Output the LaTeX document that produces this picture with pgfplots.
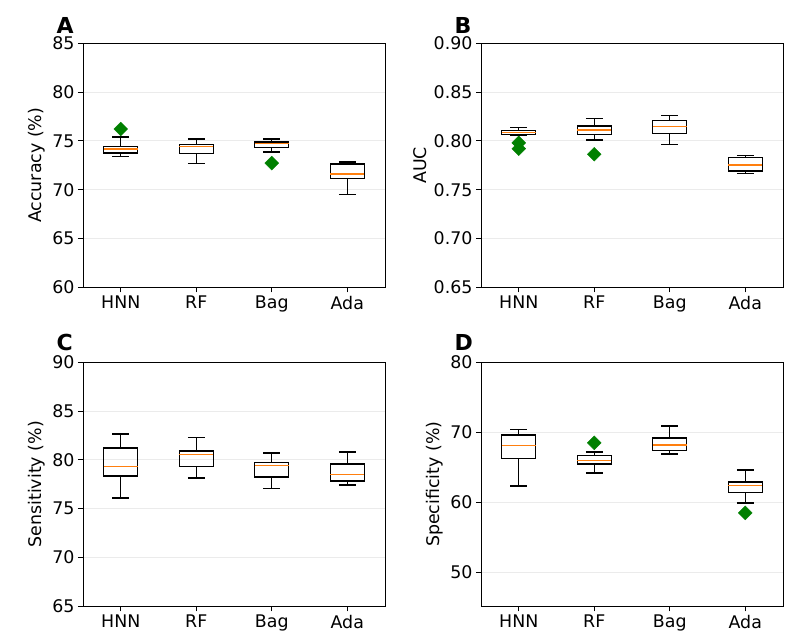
\documentclass[border=0pt]{standalone}
\usepackage{pgfplots}
\pgfplotsset{compat=1.18}
\usepgfplotslibrary{statistics}
\usepackage{fontspec}
\setmainfont{DejaVu Sans}

\definecolor{mplorange}{HTML}{FF7F0E}
\definecolor{mplgreen}{HTML}{008000}
\definecolor{gridgray}{HTML}{EBEBEB}

% one box: position, lower whisker, lower quartile, median, upper quartile, upper whisker
\newcommand{\bx}[6]{%
  \addplot[black, line width=1.4pt, boxplot prepared={draw position=#1,
      draw direction=y,
      lower whisker=#2, lower quartile=#3, median=#4,
      upper quartile=#5, upper whisker=#6}] coordinates {};}

\tikzset{letter/.style={anchor=base west, font=\bfseries\fontsize{22}{24}\selectfont}}

\pgfplotsset{
  panel/.style={
    scale only axis, width=302pt, height=244pt,
    anchor=north west, clip=false,
    xmin=0.5, xmax=4.5,
    xtick={1,2,3,4}, xticklabels={HNN,RF,Bag,Ada},
    tick pos=left, tick align=outside,
    major tick length=5pt,
    tick style={black, line width=0.9pt},
    axis line style={black, line width=0.9pt},
    ymajorgrids, grid style={gridgray, line width=0.9pt},
    tick label style={font=\fontsize{17.4}{20}\selectfont},
    label style={font=\fontsize{17.4}{20}\selectfont},
    /pgf/number format/assume math mode=true,
    boxplot/draw direction=y,
    boxplot/box extend=0.45,
    boxplot/whisker extend=0.225,
    boxplot/every median/.style={draw=mplorange, line width=1.3pt},
  },
  outl/.style={only marks, mark=square*, mark size=4.9pt,
    mark options={rotate=45, fill=mplgreen, draw=mplgreen}},
}

\begin{document}
\begin{tikzpicture}
\path[use as bounding box] (0,0) rectangle (795pt,-643pt);

% A
\begin{axis}[panel, at={(83pt,-43.3pt)}, ymin=60, ymax=85, ytick={60,65,...,85},
  ylabel={Accuracy (\%)}]
\bx{1}{73.4}{73.76}{74.17}{74.45}{75.4}
\bx{2}{72.66}{73.7}{74.4}{74.65}{75.2}
\bx{3}{73.87}{74.35}{74.72}{74.9}{75.2}
\bx{4}{69.53}{71.17}{71.6}{72.63}{72.84}
\addplot[outl] coordinates {(1,76.22) (3,72.73)};
\node[letter] at (rel axis cs:-0.099,1.041) {A};
\end{axis}

% B
\begin{axis}[panel, at={(481pt,-43.3pt)}, ymin=0.65, ymax=0.90,
  ytick={0.65,0.70,...,0.90},
  yticklabel style={/pgf/number format/.cd, fixed, fixed zerofill, precision=2},
  ylabel={AUC}]
\bx{1}{0.8057}{0.8064}{0.8084}{0.8109}{0.8139}
\bx{2}{0.8009}{0.8064}{0.8112}{0.8153}{0.8231}
\bx{3}{0.7961}{0.8074}{0.8146}{0.8207}{0.8259}
\bx{4}{0.7668}{0.7692}{0.7753}{0.7832}{0.7852}
\addplot[outl] coordinates {(1,0.798) (1,0.792) (2,0.7863)};
\node[letter] at (rel axis cs:-0.099,1.041) {B};
\end{axis}

% C
\begin{axis}[panel, at={(83pt,-362.3pt)}, ymin=65, ymax=90, ytick={65,70,...,90},
  ylabel={Sensitivity (\%)}]
\bx{1}{76.08}{78.34}{79.36}{81.2}{82.65}
\bx{2}{78.13}{79.3}{80.56}{80.93}{82.27}
\bx{3}{77.04}{78.24}{79.43}{79.74}{80.7}
\bx{4}{77.42}{77.83}{78.54}{79.6}{80.8}
\node[letter] at (rel axis cs:-0.099,1.05) {C};
\end{axis}

% D
\begin{axis}[panel, at={(481pt,-362.3pt)}, ymin=45.14, ymax=80, ytick={50,60,70,80},
  ylabel={Specificity (\%)}]
\bx{1}{62.35}{66.27}{68.07}{69.64}{70.41}
\bx{2}{64.2}{65.45}{65.98}{66.7}{67.21}
\bx{3}{66.92}{67.4}{68.17}{69.21}{70.89}
\bx{4}{59.91}{61.4}{62.45}{62.88}{64.64}
\addplot[outl] coordinates {(2,68.5) (4,58.48)};
\node[letter] at (rel axis cs:-0.099,1.05) {D};
\end{axis}
\end{tikzpicture}
\end{document}
